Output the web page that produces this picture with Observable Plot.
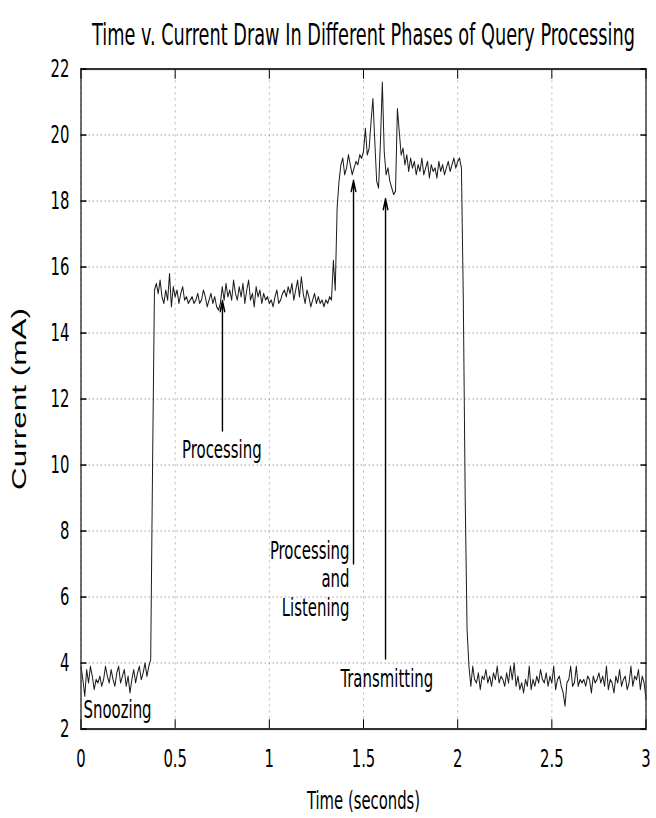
<!DOCTYPE html>
<html><head><meta charset="utf-8">
<script src="https://cdn.jsdelivr.net/npm/d3@7"></script>
<script src="https://cdn.jsdelivr.net/npm/@observablehq/plot@0.6"></script>
<style>
html,body{margin:0;padding:0;background:#fff;}
#chart svg{display:block;}
</style></head><body><div id="chart"></div>
<script>
// Current draw (mA), one sample every 0.01 s from 0.00 s to 3.00 s
const current = [
  // 0.00 - 0.37 snoozing
  3.9,3.5,3.0,3.8,3.4,3.9,3.6,3.2,3.5,3.4, 3.6,3.3,3.5,3.9,3.6,3.4,3.8,3.5,3.3,3.7,
  3.9,3.4,3.6,3.8,3.3,3.6,3.1,3.5,3.8,3.4, 3.7,3.9,3.5,3.7,4.0,3.6,3.9,4.1,
  // 0.38 - 0.39 rise
  10.0,15.3,
  // 0.40 - 1.34 processing
  15.5,15.2,15.6,15.1,14.9,15.3,15.0,15.8,14.8,15.4,
  15.1,15.3,14.9,15.2,15.4,15.0,15.1,14.9,15.0,15.1,
  14.9,15.0,15.2,14.9,15.0,15.3,15.1,14.8,15.0,15.2,
  14.9,15.1,14.8,14.7,14.9,15.4,15.0,15.5,15.1,15.3,
  15.0,15.6,15.2,15.0,15.4,15.1,15.5,14.9,15.3,15.6,
  15.0,15.2,14.8,15.4,15.1,15.3,14.9,15.2,15.0,15.1,
  14.9,15.0,14.8,15.1,15.3,14.9,15.0,15.2,15.3,15.1,
  15.4,15.2,15.5,15.0,15.3,15.6,15.1,15.7,15.2,14.9,
  15.3,15.1,14.8,15.0,15.2,14.9,15.1,14.9,15.0,14.8,
  15.0,14.9,15.1,15.0,16.2,
  // 1.35 - 1.99 processing + listening, transmitting
  15.3,17.8,18.6,19.1,19.3,
  18.8,19.0,19.4,19.1,18.8,19.0,19.2,19.1,19.4,19.3,
  19.5,20.2,19.4,19.6,20.4,21.1,19.8,18.6,18.4,19.8,
  21.6,19.5,18.8,19.0,18.6,18.4,18.2,18.3,20.8,20.1,
  19.4,19.6,19.1,19.4,18.9,19.3,19.0,19.2,18.8,19.1,
  18.9,19.3,18.8,19.0,19.2,18.7,19.1,18.9,19.0,18.7,
  19.2,18.9,19.1,18.8,19.0,19.2,18.9,19.1,19.3,19.0,
  // 2.00 - 2.06 fall
  19.2,19.3,19.0,15.0,9.0,5.0,3.9,
  // 2.07 - 3.00 snoozing
  3.3,3.9,3.5,
  3.4,3.7,3.2,3.6,3.5,3.8,3.4,3.6,3.3,3.7,
  3.5,3.9,3.4,3.6,3.5,3.3,3.7,3.4,3.9,3.5,
  4.0,3.3,3.6,3.2,3.4,3.1,3.5,3.3,3.9,3.2,
  3.5,3.3,3.6,3.4,3.8,3.5,3.4,3.7,3.3,3.6,
  3.4,3.9,3.2,3.5,3.6,3.3,3.1,2.7,3.4,3.5,
  3.9,3.3,3.4,3.9,3.3,3.5,3.4,3.5,3.3,3.6,
  3.5,3.1,3.6,3.4,3.5,3.7,3.4,3.6,3.3,3.9,
  3.2,3.5,3.4,3.1,3.6,3.4,3.8,3.3,3.5,3.6,
  3.2,3.4,3.9,3.3,3.6,3.5,3.8,3.2,3.6,3.4,
  2.9
];
const sampleStep = 0.01;

const xTicks = [0, 0.5, 1, 1.5, 2, 2.5, 3];
const yTicks = [2, 4, 6, 8, 10, 12, 14, 16, 18, 20, 22];

const titleText = "Time v. Current Draw In Different Phases of Query Processing";
const xLabel = "Time (seconds)";
const yLabel = "Current (mA)";

const noteLabels = ["Processing", "Processing\nand\nListening", "Transmitting", "Snoozing"];
const noteX = [0.748, 1.426, 1.378, 0.013];
const noteY = [10.49, 6.57, 3.55, 2.6];
const noteAnchor = ["middle", "end", "start", "start"];

const arrowX = [0.751, 1.447, 1.617];
const arrowFrom = [11.04, 7.01, 4.13];
const arrowTo = [14.98, 18.62, 18.07];

// ---- build ----
const S = 1.5;               // vertical stretch of the reference picture
const W = 656, H = 818 / S;
const series = current.map((c, i) => ({t: +(i * sampleStep).toFixed(2), c}));
const notes = noteLabels.map((label, i) => ({label, x: noteX[i], y: noteY[i], anchor: noteAnchor[i]}));
const arrows = arrowX.map((x, i) => ({x, y1: arrowFrom[i], y2: arrowTo[i]}));
const narrow = "'DejaVu Sans Condensed','Liberation Sans Narrow',sans-serif";
const fmt = d3.format("~g");
const plotTop = 68.3 / S, plotBottom = 728.3 / S;

const noteMarks = ["middle", "end", "start"].map(a =>
  Plot.text(notes.filter(d => d.anchor === a), {
    x: "x", y: "y", text: "label", textAnchor: a, lineAnchor: "middle",
    lineHeight: 1.15, fontSize: 16.6, fill: "black", fontFamily: narrow
  })
);

const plot = Plot.plot({
  width: W, height: H,
  marginLeft: 80.5, marginRight: 10.5, marginTop: plotTop, marginBottom: H - plotBottom,
  x: {domain: [0, 3], label: null},
  y: {domain: [2, 22], label: null},
  style: {fontFamily: narrow, fontSize: "16.5px", color: "black", background: "white", overflow: "visible"},
  marks: [
    Plot.gridX(xTicks, {stroke: "#8a8a8a", strokeOpacity: 0.55, strokeDasharray: "1.5,2.5"}),
    Plot.gridY(yTicks, {stroke: "#8a8a8a", strokeOpacity: 0.55, strokeDasharray: "1.5,2.5"}),
    Plot.line(series, {x: "t", y: "c", stroke: "#1c1c1c", strokeWidth: 1}),
    Plot.arrow(arrows, {x1: "x", x2: "x", y1: "y1", y2: "y2", stroke: "black", strokeWidth: 1.4, headLength: 8, headAngle: 35}),
    ...noteMarks,
    Plot.frame({stroke: "#333", strokeWidth: 1.4}),
    Plot.axisX(xTicks, {anchor: "bottom", tickSize: -6, tickPadding: 19.3, tickFormat: fmt, fontSize: 16.5, label: null}),
    Plot.axisX(xTicks, {anchor: "top", tickSize: -6, tickFormat: () => "", label: null}),
    Plot.axisY(yTicks, {anchor: "left", tickSize: -6, tickPadding: 17.5, tickFormat: fmt, fontSize: 16.5, label: null}),
    Plot.axisY(yTicks, {anchor: "right", tickSize: -6, tickFormat: () => "", label: null}),
    Plot.text([titleText], {frameAnchor: "top", dy: 29.3 - plotTop, lineAnchor: "bottom", fontSize: 19.7, fill: "black", fontFamily: narrow}),
    Plot.text([xLabel], {frameAnchor: "bottom", dy: (800 - 728.3) / S, lineAnchor: "middle", fontSize: 16.5, fill: "black", fontFamily: narrow}),
    Plot.text([yLabel], {frameAnchor: "left", rotate: -90, dx: -61.5, textAnchor: "middle", lineAnchor: "middle", fontSize: 21, fill: "black",
      fontFamily: "'Liberation Sans', Arial, Helvetica, sans-serif"})
  ]
});

plot.setAttribute("preserveAspectRatio", "none");
plot.setAttribute("width", W);
plot.setAttribute("height", 818);
plot.style.width = W + "px";
plot.style.height = "818px";
plot.style.maxWidth = "none";
document.getElementById("chart").appendChild(plot);
</script>
</body></html>
